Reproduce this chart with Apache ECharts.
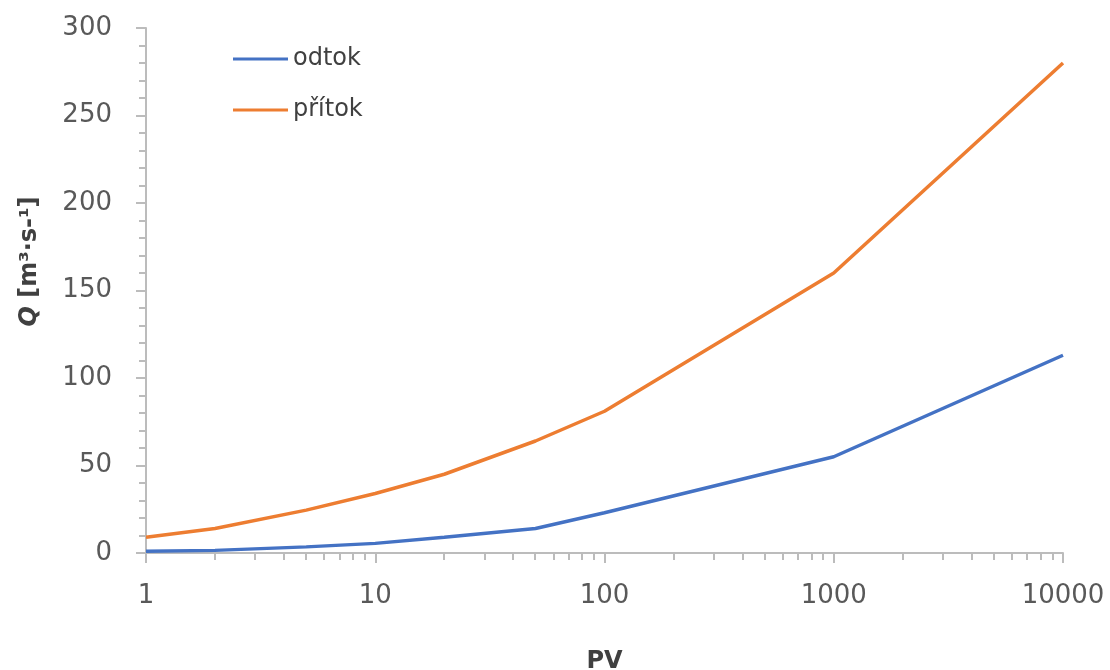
<!DOCTYPE html>
<html>
<head>
<meta charset="utf-8">
<script src="https://cdn.jsdelivr.net/npm/echarts@6/dist/echarts.min.js"></script>
<style>html,body{margin:0;padding:0;background:#fff}#c{width:1110px;height:670px}</style>
</head>
<body>
<div id="c"></div>
<script>
const pv = [1, 2, 5, 10, 20, 50, 100, 1000, 10000];
const odtok = [1, 1.5, 3.5, 5.5, 9, 14, 23, 55, 113];
const pritok = [9, 14, 24.5, 34, 45, 64, 81, 160, 280];
const xMinorTicks = [2,3,4,5,6,7,8,9,20,30,40,50,60,70,80,90,200,300,400,500,600,700,800,900,2000,3000,4000,5000,6000,7000,8000,9000];
const seriesNames = ['odtok', 'přítok'];
const FONT = 'DejaVu Sans';
const AX = '#bcbcbc';

const chart = echarts.init(document.getElementById('c'));
chart.setOption({
  animation: false,
  backgroundColor: '#fff',
  grid: {left: 146, right: 47, top: 28, bottom: 117, containLabel: false, outerBoundsMode: 'none'},
  legend: {
    data: seriesNames.map(n => ({name: n, icon: 'rect'})),
    orient: 'vertical',
    left: 233, top: 46, padding: 0,
    itemWidth: 55, itemHeight: 3, itemGap: 25,
    textStyle: {fontFamily: FONT, fontSize: 24, color: '#404040', lineHeight: 26}
  },
  xAxis: {
    type: 'log', logBase: 10, min: 1, max: 10000,
    name: 'PV', nameLocation: 'middle', nameGap: 97,
    nameTextStyle: {fontFamily: FONT, fontSize: 24, fontWeight: 'bold', color: '#404040'},
    axisLine: {lineStyle: {color: AX, width: 2}},
    axisTick: {show: true, length: 10, lineStyle: {color: AX, width: 2}},
    minorTick: {show: false},
    splitLine: {show: false},
    axisLabel: {fontFamily: FONT, fontSize: 26, color: '#595959', margin: 30, formatter: v => String(v)}
  },
  yAxis: {
    type: 'value', min: 0, max: 300, interval: 50,
    name: '{q|Q} [m³·s-¹]', nameLocation: 'middle', nameGap: 104,
    nameTextStyle: {fontFamily: FONT, fontSize: 24, fontWeight: 'bold', color: '#404040', padding: [0,0,0,58],
      rich: {q: {fontFamily: FONT, fontSize: 24, fontWeight: 'bold', fontStyle: 'italic', color: '#404040'}}},
    axisLine: {show: true, lineStyle: {color: AX, width: 2}},
    axisTick: {show: true, length: 10, lineStyle: {color: AX, width: 2}},
    minorTick: {show: true, splitNumber: 5, length: 7, lineStyle: {color: AX, width: 2}},
    splitLine: {show: false},
    axisLabel: {fontFamily: FONT, fontSize: 26, color: '#595959', margin: 34}
  },
  series: [
    {name: 'odtok', type: 'line', data: pv.map((x, i) => [x, odtok[i]]), showSymbol: false, symbol: 'none',
      lineStyle: {color: '#4472C4', width: 3.5}, itemStyle: {color: '#4472C4'}},
    {name: 'přítok', type: 'line', data: pv.map((x, i) => [x, pritok[i]]), showSymbol: false, symbol: 'none',
      lineStyle: {color: '#ED7D31', width: 3.5}, itemStyle: {color: '#ED7D31'}},
    {name: 'minorx', type: 'custom', silent: true, clip: false,
      data: xMinorTicks.map(v => [v, 0]),
      renderItem: function (params, api) {
        const p = api.coord([api.value(0), 0]);
        const x = Math.round(p[0]);
        return {type: 'line', shape: {x1: x, y1: p[1], x2: x, y2: p[1] + 7},
          style: {stroke: AX, lineWidth: 2}};
      }}
  ]
});
</script>
</body>
</html>
